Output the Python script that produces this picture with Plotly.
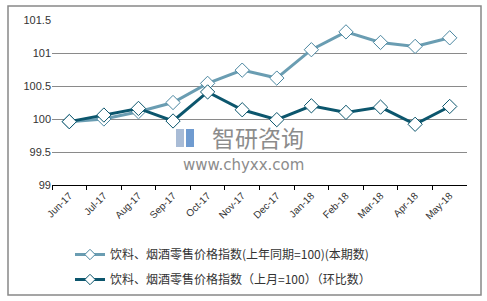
import plotly.graph_objects as go

months = ["Jun-17", "Jul-17", "Aug-17", "Sep-17", "Oct-17", "Nov-17", "Dec-17",
          "Jan-18", "Feb-18", "Mar-18", "Apr-18", "May-18"]
yoy = [99.96, 100.00, 100.11, 100.25, 100.54, 100.74, 100.62,
       101.05, 101.32, 101.16, 101.10, 101.23]
mom = [99.96, 100.06, 100.16, 99.97, 100.41, 100.14, 99.99,
       100.20, 100.10, 100.18, 99.92, 100.19]
name_yoy = "饮料、烟酒零售价格指数(上年同期=100)(本期数)"
name_mom = "饮料、烟酒零售价格指数（上月=100）（环比数）"
yticks = [99, 99.5, 100, 100.5, 101, 101.5]
ytick_text = ["99", "99.5", "100", "100.5", "101", "101.5"]

W, H = 487, 301
# plot area in pixels
PL, PR, PT, PB = 52, 467, 20, 185

def px(x):
    return x / W

def py(y):
    return (H - y) / H

font_family = "Noto Sans CJK SC, Liberation Sans, Arial, sans-serif"
c_light, c_light_edge = "#6a9db2", "#4a86a0"
c_dark = "#0c566d"

fig = go.Figure()
fig.add_trace(go.Scatter(
    x=months, y=yoy, name=name_yoy, mode="lines+markers", showlegend=False,
    line=dict(color=c_light, width=3),
    marker=dict(symbol="diamond", size=11, color="white",
                line=dict(color=c_light_edge, width=1)),
))
fig.add_trace(go.Scatter(
    x=months, y=mom, name=name_mom, mode="lines+markers", showlegend=False,
    line=dict(color=c_dark, width=3),
    marker=dict(symbol="diamond", size=11, color="white",
                line=dict(color=c_dark, width=1)),
))
# legend entries with smaller symbols
fig.add_trace(go.Scatter(
    x=[None], y=[None], name=name_yoy, mode="lines+markers", legendgroup="a",
    line=dict(color=c_light, width=3),
    marker=dict(symbol="diamond", size=8, color="white",
                line=dict(color=c_light_edge, width=1)),
))
fig.add_trace(go.Scatter(
    x=[None], y=[None], name=name_mom, mode="lines+markers", legendgroup="b",
    line=dict(color=c_dark, width=3),
    marker=dict(symbol="diamond", size=8, color="white",
                line=dict(color=c_dark, width=1)),
))

shapes = [
    dict(type="rect", xref="paper", yref="paper",
         x0=px(8), x1=px(481), y0=py(295), y1=py(6),
         line=dict(color="#888888", width=1.5), fillcolor="rgba(0,0,0,0)", layer="below"),
    # watermark icon
    dict(type="rect", xref="paper", yref="paper",
         x0=px(176), x1=px(184), y0=py(147), y1=py(129),
         line=dict(width=0), fillcolor="#a9bcd6", layer="above"),
    dict(type="rect", xref="paper", yref="paper",
         x0=px(186), x1=px(194), y0=py(147), y1=py(129),
         line=dict(width=0), fillcolor="#6f9bd0", layer="above"),
]

annotations = [
    dict(text="智研咨询", xref="paper", yref="paper", x=px(258), y=py(137),
         showarrow=False, font=dict(size=23, color="#8c8c8c", family=font_family)),
    dict(text="www.chyxx.com", xref="paper", yref="paper", x=px(243), y=py(165),
         showarrow=False, font=dict(size=15, color="#8c8c8c", family="DejaVu Sans, sans-serif")),
]

fig.update_layout(
    width=W, height=H,
    margin=dict(l=0, r=0, t=0, b=0, pad=0, autoexpand=False),
    paper_bgcolor="white", plot_bgcolor="white",
    font=dict(family=font_family, color="#333333", size=11),
    showlegend=True,
    legend=dict(x=px(70), y=py(240), xanchor="left", yanchor="top",
                font=dict(size=12, color="#333333", family=font_family),
                tracegroupgap=6, bgcolor="rgba(0,0,0,0)", itemwidth=30),
    xaxis=dict(type="category", range=[-0.5, 11.5], tickangle=-45, automargin=False,
               domain=[px(PL), px(PR)],
               tickson="boundaries", ticks="outside", ticklen=4, tickcolor="#000000",
               showline=True, linecolor="#000000", linewidth=1, showgrid=False,
               tickfont=dict(size=10, family="Liberation Sans, Arial, sans-serif", color="#333333")),
    yaxis=dict(range=[99, 101.5], tickvals=yticks, ticktext=ytick_text, automargin=False,
               domain=[py(PB), py(PT)],
               showgrid=True, gridcolor="#8a8a8a", gridwidth=1,
               zeroline=False, showline=False, ticks="",
               tickfont=dict(size=11, family="Liberation Sans, Arial, sans-serif", color="#333333")),
    shapes=shapes, annotations=annotations,
)

fig.write_html("out.html")
